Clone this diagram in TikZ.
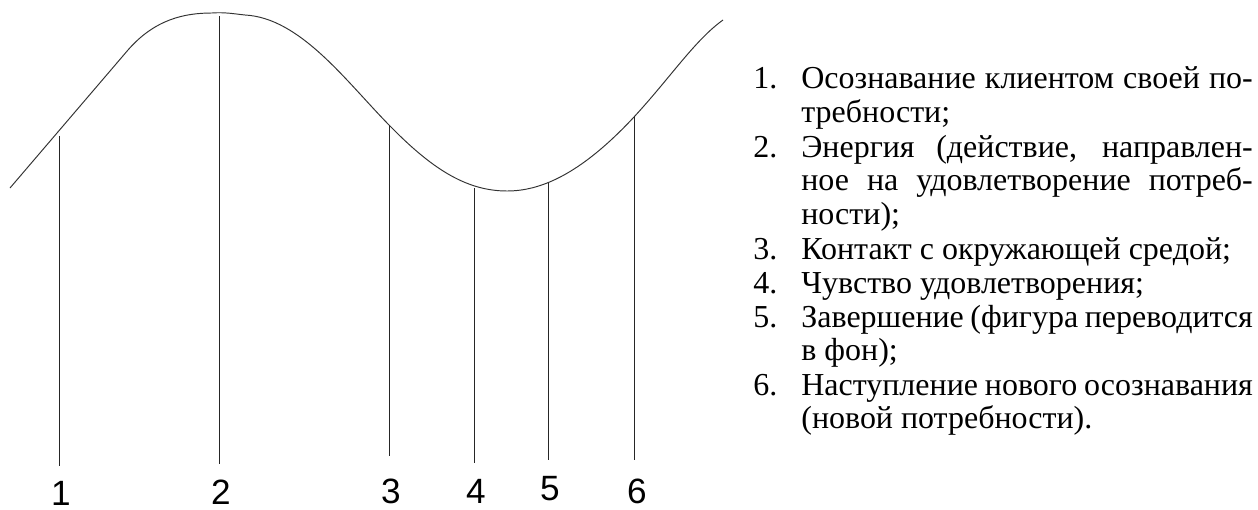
\documentclass[tikz,border=0pt]{standalone}
\usepackage{fontspec}
\setmainfont{Liberation Serif}
\newfontfamily\digitfont{Liberation Sans}
\usetikzlibrary{positioning}
\hyphenpenalty=10000

\begin{document}
\begin{tikzpicture}[
    x=0.02cm, y=-0.02cm,
    curve/.style={draw=black!80, line width=0.55pt},
    stage/.style={draw=black!85, line width=0.5pt},
    num/.style={font=\digitfont\fontsize{20}{20}\selectfont, inner sep=0pt, anchor=base},
    itemnum/.style={font=\fontsize{18.2}{19.3}\selectfont, inner sep=0pt, anchor=base west},
    itemtext/.style={font=\fontsize{18.2}{19.3}\selectfont, inner sep=0pt, anchor=base west, text width=257pt, align=justify},
]
    \useasboundingbox (0,0) rectangle (1258,510);

    % Curve
    \draw[curve] (10,188) -- (128,50) .. controls (155,19) and (185,13) .. (212,13)
        .. controls (225,12) and (235,14) .. (245,15)
        .. controls (300,18) and (345,80) .. (389,125)
        .. controls (430,167) and (465,191) .. (507,191)
        .. controls (540,191) and (580,175) .. (634,117)
        .. controls (670,78) and (695,40) .. (723,20);

    % Stage points
    \coordinate (c1) at (59,136);  \coordinate (e1) at (59,466);
    \coordinate (c2) at (219,16);  \coordinate (e2) at (219,464);
    \coordinate (c3) at (389,125); \coordinate (e3) at (389,456);
    \coordinate (c4) at (474,188); \coordinate (e4) at (474,463);
    \coordinate (c5) at (548,183); \coordinate (e5) at (548,460);
    \coordinate (c6) at (634,116); \coordinate (e6) at (634,460);

    % Verticals
    \draw[stage] (c1) -- (e1);
    \draw[stage] (c2) -- (e2);
    \draw[stage] (c3) -- (e3);
    \draw[stage] (c4) -- (e4);
    \draw[stage] (c5) -- (e5);
    \draw[stage] (c6) -- (e6);

    % Stage numbers
    \node[num] (n1) at (61,505) {1};
    \node[num] (n2) at (221,504) {2};
    \node[num] (n3) at (391,503) {3};
    \node[num] (n4) at (476,503) {4};
    \node[num] (n5) at (550,500) {5};
    \node[num] (n6) at (637,503) {6};

    % Legend
    \node[itemnum] (l1) at (753,89) {1.};
    \node[itemtext] (d1) at (801,89) {Осознавание клиентом своей по-\linebreak требности;};
    \node[itemnum] (l2) at (753,157) {2.};
    \node[itemtext] (d2) at (801,157) {Энергия (действие, направлен-\linebreak ное на удовлетворение потреб-\linebreak ности);};
    \node[itemnum] (l3) at (753,259) {3.};
    \node[itemtext] (d3) at (801,259) {Контакт с окружающей средой;};
    \node[itemnum] (l4) at (753,293) {4.};
    \node[itemtext] (d4) at (801,293) {Чувство удовлетворения;};
    \node[itemnum] (l5) at (753,327) {5.};
    \node[itemtext] (d5) at (801,327) {Завершение (фигура переводится\linebreak в фон);};
    \node[itemnum] (l6) at (753,395) {6.};
    \node[itemtext] (d6) at (801,395) {Наступление нового осознавания\linebreak (новой потребности).};
\end{tikzpicture}
\end{document}
